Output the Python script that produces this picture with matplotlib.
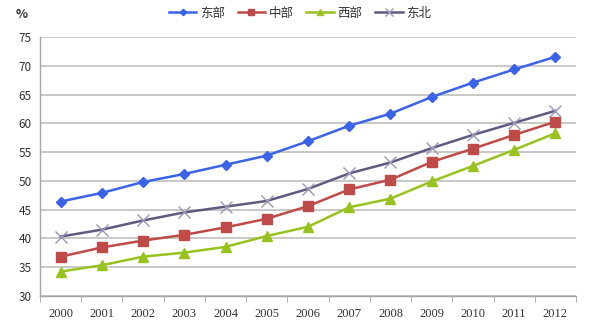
import matplotlib
matplotlib.use("Agg")
import matplotlib.pyplot as plt
import numpy as np

plt.rcParams['font.family'] = ['Noto Sans CJK SC', 'DejaVu Sans']

years = ['2000', '2001', '2002', '2003', '2004', '2005', '2006',
         '2007', '2008', '2009', '2010', '2011', '2012']
east = [46.4, 47.9, 49.8, 51.2, 52.8, 54.4, 56.9, 59.6, 61.7, 64.6, 67.1, 69.4, 71.6]
central = [36.8, 38.4, 39.6, 40.6, 41.9, 43.4, 45.6, 48.5, 50.2, 53.3, 55.6, 58.0, 60.3]
west = [34.2, 35.3, 36.8, 37.5, 38.5, 40.4, 42.0, 45.4, 46.9, 49.9, 52.6, 55.4, 58.3]
northeast = [40.3, 41.5, 43.1, 44.5, 45.5, 46.5, 48.6, 51.3, 53.2, 55.7, 58.0, 60.1, 62.2]
names = ['东部', '中部', '西部', '东北']
yticks = [30, 35, 40, 45, 50, 55, 60, 65, 70, 75]

fig = plt.figure(figsize=(6, 3.33), dpi=100)
ax = fig.add_axes([40/600, 1-295.7/333, 536/600, 258.4/333])

x = np.arange(len(years))
ax.plot(x, east, color='#3A63E8', lw=1.8, marker='D', ms=5, mfc='#3A63E8', mec='#3A63E8', label=names[0], zorder=5)
ax.plot(x, central, color='#BE4B48', lw=1.8, marker='s', ms=7, mfc='#BE4B48', mec='#BE4B48', label=names[1], zorder=4)
ax.plot(x, west, color='#98C21E', lw=1.8, marker='^', ms=7, mfc='#98C21E', mec='#98C21E', label=names[2], zorder=3)
ax.plot(x, northeast, color='#5F5A80', lw=1.8, marker='x', ms=8, mew=1.0, mec='#9C98B8', label=names[3], zorder=4)

ax.set_xlim(-0.5, len(years)-0.5)
ax.set_ylim(30, 75)
ax.set_yticks(yticks)
ax.set_yticklabels([str(v) for v in yticks], fontsize=8.5, color='#333333')
ax.tick_params(axis='y', length=0, pad=6)
ax.set_xticks(x)
ax.set_xticklabels(years, fontsize=9, color='#333333', family=['Liberation Serif'])
ax.tick_params(axis='x', length=0, pad=9)
ax.set_xticks(np.arange(-0.5, len(years)), minor=True)
ax.tick_params(axis='x', which='minor', length=4, color='#A6A6A6', direction='out')

ax.grid(axis='y', color='#BFBFBF', lw=1.2)
ax.set_axisbelow(True)
for s in ['top', 'right']:
    ax.spines[s].set_visible(False)
for s in ['left', 'bottom']:
    ax.spines[s].set_color('#A6A6A6')
    ax.spines[s].set_linewidth(1.0)

fig.text(22/600, 1-14/333, '%', fontsize=9, color='#333333', ha='center', va='center', fontweight='bold')
fig.legend(loc='center', bbox_to_anchor=(0.5, 1-13/333), ncol=4, frameon=False,
           fontsize=9, handlelength=2.2, handletextpad=0.3, columnspacing=1.0,
           markerscale=0.65, labelcolor='#333333')

fig.savefig('out.png', dpi=100)
